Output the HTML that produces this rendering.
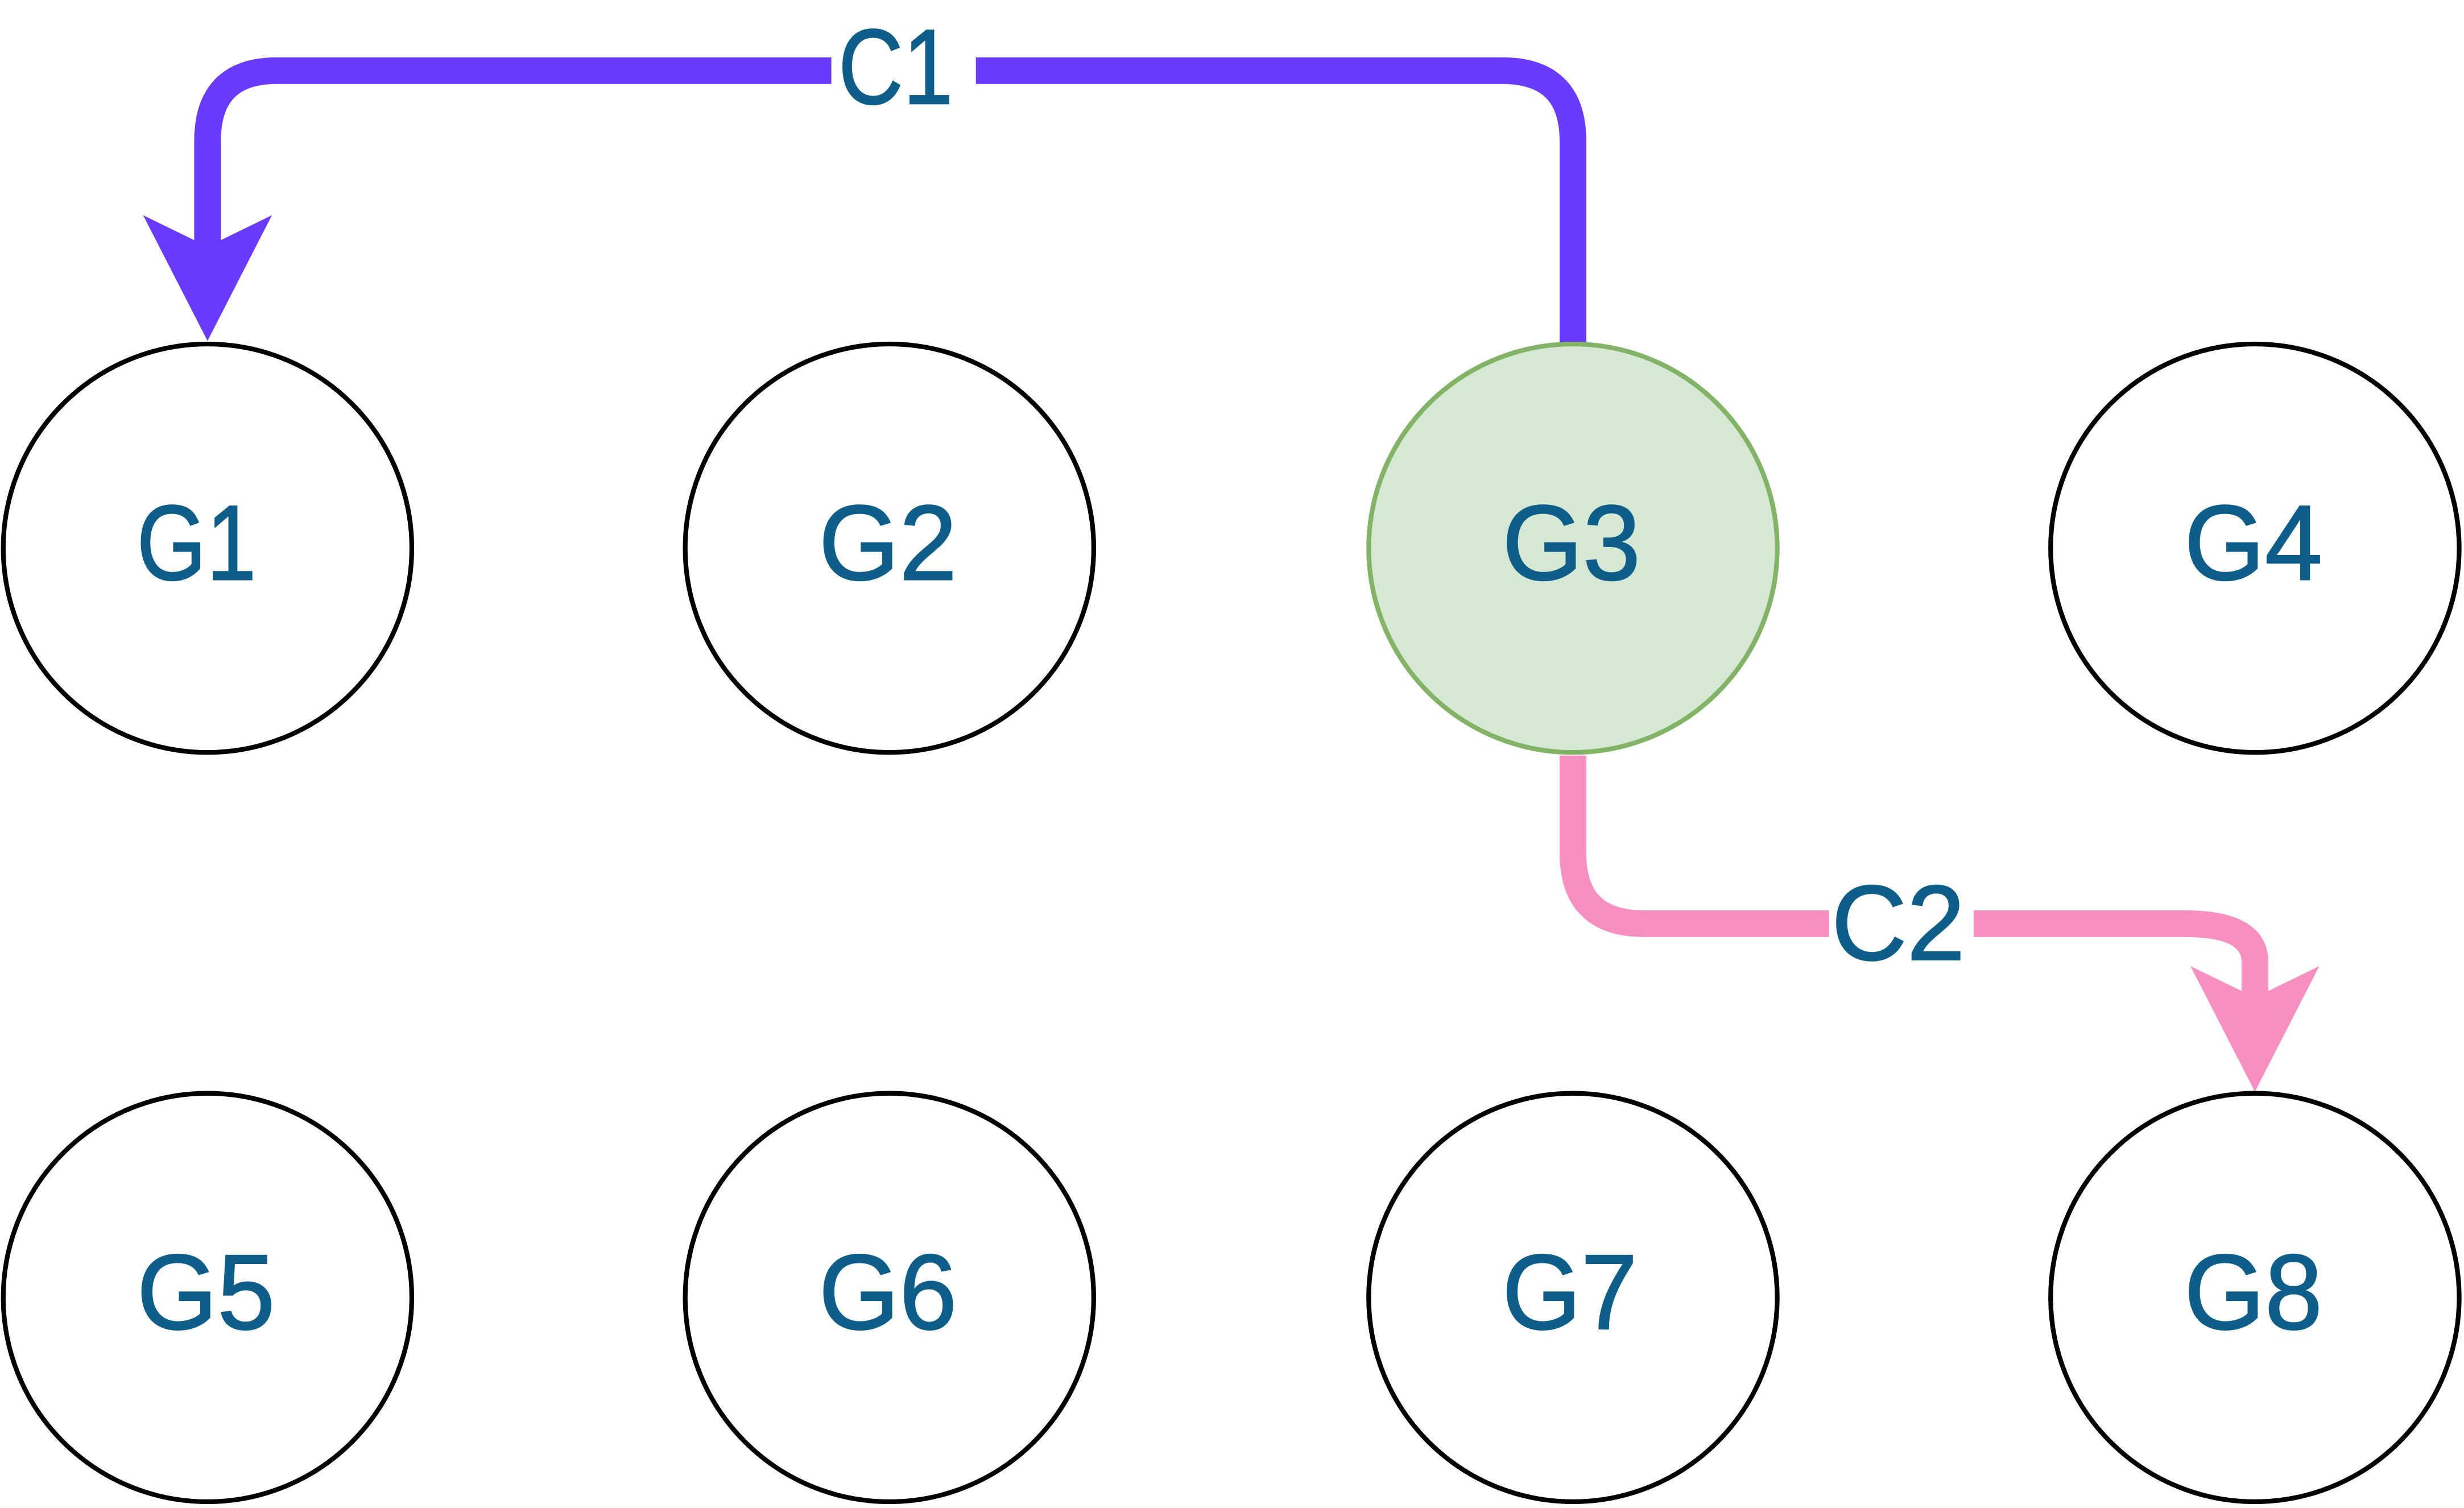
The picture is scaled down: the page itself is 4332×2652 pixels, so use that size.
<!DOCTYPE html>
<html><head><meta charset="utf-8"><style>html,body{margin:0;padding:0;background:#fff}svg{display:block}</style></head>
<body>
<svg width="4332" height="2652" viewBox="0 0 1568 960" xmlns="http://www.w3.org/2000/svg">
<rect width="1568" height="960" fill="#fff"/>
<g font-family="Liberation Sans, Arial, sans-serif" font-size="68" fill="#0f5e8a" stroke="#0f5e8a" stroke-width="0.8" text-anchor="middle">
<path d="M1001 219 V90 Q1001 45 956 45 H176 Q132 45 132 90 V158" fill="none" stroke="#6a3bff" stroke-width="17"/>
<polygon points="91,137 132,157 173,137 132,217" fill="#6a3bff" stroke="none"/>
<rect x="529" y="10" width="92" height="70" fill="#fff" stroke="none"/>
<text x="570" y="66" textLength="73" lengthAdjust="spacingAndGlyphs">C1</text>
<path d="M1001 481 V543 Q1001 588 1046 588 H1390 Q1435 588 1435 612 V642" fill="none" stroke="#f78fc0" stroke-width="17"/>
<polygon points="1394,615 1435,635 1476,615 1435,695" fill="#f78fc0" stroke="none"/>
<rect x="1164" y="553" width="92" height="70" fill="#fff" stroke="none"/>
<text x="1208" y="611" textLength="85" lengthAdjust="spacingAndGlyphs">C2</text>
<g stroke="#000" stroke-width="3" fill="#fff">
<circle cx="132" cy="349" r="130"/><circle cx="566" cy="349" r="130"/>
<circle cx="1001" cy="349" r="130" fill="#d5e8d4" stroke="#82b366"/><circle cx="1435" cy="349" r="130"/>
<circle cx="132" cy="826" r="130"/><circle cx="566" cy="826" r="130"/>
<circle cx="1001" cy="826" r="130"/><circle cx="1435" cy="826" r="130"/>
</g>
<text x="125" y="369" textLength="76" lengthAdjust="spacingAndGlyphs">G1</text><text x="565" y="369" textLength="88" lengthAdjust="spacingAndGlyphs">G2</text><text x="1000" y="369" textLength="88" lengthAdjust="spacingAndGlyphs">G3</text><text x="1434" y="369" textLength="88" lengthAdjust="spacingAndGlyphs">G4</text>
<text x="131" y="846" textLength="88" lengthAdjust="spacingAndGlyphs">G5</text><text x="565" y="846" textLength="88" lengthAdjust="spacingAndGlyphs">G6</text><text x="999" y="846" textLength="86" lengthAdjust="spacingAndGlyphs">G7</text><text x="1434" y="846" textLength="88" lengthAdjust="spacingAndGlyphs">G8</text>
</g>
</svg>
</body></html>
